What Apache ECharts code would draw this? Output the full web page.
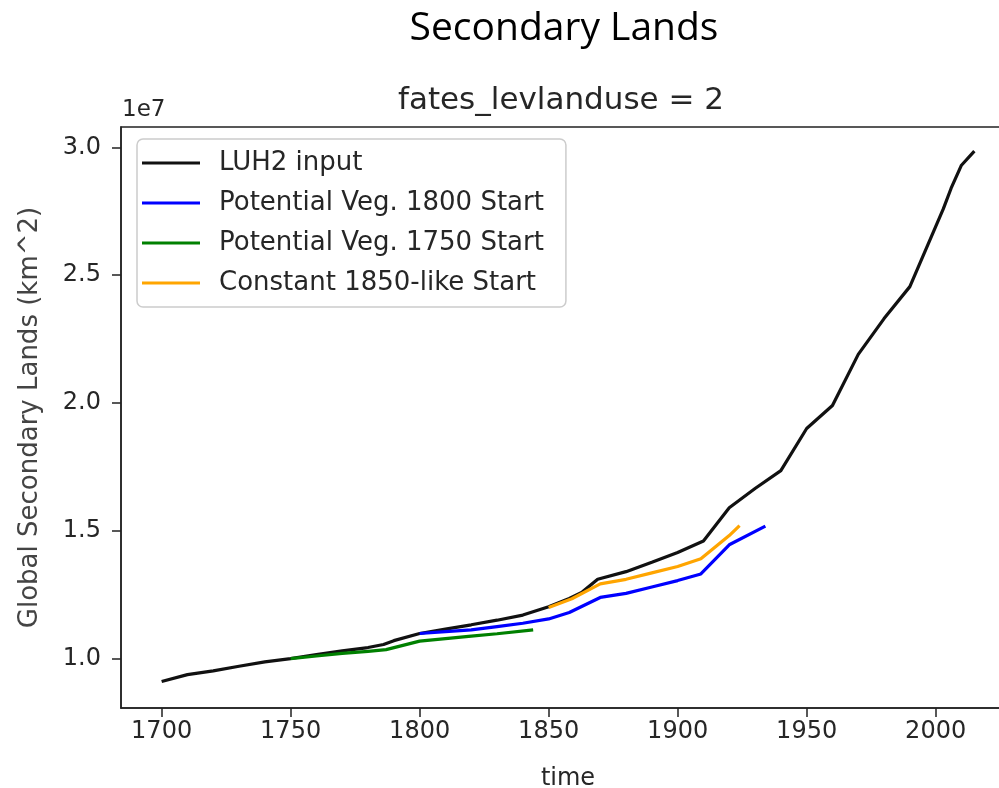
<!DOCTYPE html>
<html>
<head>
<meta charset="utf-8">
<script src="https://cdn.jsdelivr.net/npm/echarts@6/dist/echarts.min.js"></script>
<style>
  html, body { margin: 0; padding: 0; background: #fff; }
  #chart { width: 999px; height: 788px; }
</style>
</head>
<body>
<div id="chart"></div>
<script>
// Global secondary land area, in units of 1e7 km^2.
const luh2Years  = [1700, 1710, 1720, 1730, 1740, 1750, 1760, 1770, 1780, 1786, 1790, 1800, 1810, 1820, 1830, 1840, 1850, 1858, 1863, 1869, 1880, 1890, 1900, 1910, 1920, 1930, 1940, 1950, 1960, 1970, 1980, 1990, 2000, 2003, 2006, 2010, 2015];
const luh2Values = [0.910, 0.937, 0.952, 0.970, 0.987, 1.000, 1.015, 1.030, 1.043, 1.055, 1.070, 1.098, 1.115, 1.132, 1.150, 1.170, 1.203, 1.235, 1.260, 1.310, 1.340, 1.377, 1.415, 1.460, 1.590, 1.665, 1.735, 1.900, 1.990, 2.190, 2.330, 2.455, 2.690, 2.760, 2.840, 2.930, 2.985];

const veg1800Years  = [1800, 1810, 1820, 1830, 1840, 1850, 1858, 1870, 1880, 1890, 1900, 1909, 1920, 1934];
const veg1800Values = [1.098, 1.105, 1.112, 1.125, 1.138, 1.155, 1.180, 1.239, 1.255, 1.280, 1.305, 1.331, 1.445, 1.518];

const veg1750Years  = [1750, 1760, 1770, 1780, 1787, 1800, 1810, 1820, 1830, 1844];
const veg1750Values = [1.000, 1.010, 1.020, 1.028, 1.035, 1.068, 1.078, 1.088, 1.097, 1.112];

const const1850Years  = [1850, 1859, 1870, 1880, 1890, 1900, 1909, 1920, 1924];
const const1850Values = [1.200, 1.234, 1.292, 1.310, 1.335, 1.360, 1.390, 1.481, 1.520];

const seriesNames = ['LUH2 input', 'Potential Veg. 1800 Start', 'Potential Veg. 1750 Start', 'Constant 1850-like Start'];
const xTicks = [1700, 1750, 1800, 1850, 1900, 1950, 2000];
const yTicks = [1.0, 1.5, 2.0, 2.5, 3.0];

const pair = (xs, ys) => xs.map((x, i) => [x, ys[i]]);

const FONT = 'DejaVu Sans';
const TEXT = '#262626';

const lineSeries = (name, xs, ys, color) => ({
  name: name,
  type: 'line',
  data: pair(xs, ys),
  showSymbol: false,
  symbol: 'none',
  smooth: false,
  clip: false,
  lineStyle: { color: color, width: 3.2 },
  itemStyle: { color: color },
  emphasis: { disabled: true },
  animation: false
});

const chart = echarts.init(document.getElementById('chart'), null, { renderer: 'canvas' });

chart.setOption({
  backgroundColor: '#ffffff',
  animation: false,
  grid: {
    left: 121, right: -16, top: 127, bottom: 80,
    outerBoundsMode: 'none',
    show: true, borderColor: '#222', borderWidth: 1.5, backgroundColor: 'transparent'
  },
  xAxis: {
    type: 'value',
    min: 1684.25, max: 2030.75,
    name: 'time',
    nameLocation: 'middle',
    nameGap: 59,
    nameTextStyle: { fontFamily: FONT, fontSize: 24, color: TEXT },
    axisLine: { show: true, onZero: false, lineStyle: { color: '#222', width: 1.5 } },
    axisTick: { show: true, length: 9, lineStyle: { color: '#222', width: 1.5 }, customValues: xTicks },
    axisLabel: {
      customValues: xTicks, margin: 12,
      fontFamily: FONT, fontSize: 24, color: TEXT,
      formatter: v => String(v)
    },
    splitLine: { show: false }
  },
  yAxis: {
    type: 'value',
    min: 0.8065, max: 3.0795,
    name: 'Global Secondary Lands (km^2)',
    nameLocation: 'middle',
    nameGap: 78,
    nameTextStyle: { fontFamily: FONT, fontSize: 26, color: '#444' },
    axisLine: { show: true, onZero: false, lineStyle: { color: '#222', width: 1.5 } },
    axisTick: { show: true, length: 9, lineStyle: { color: '#222', width: 1.5 }, customValues: yTicks },
    axisLabel: {
      customValues: yTicks, margin: 20,
      fontFamily: FONT, fontSize: 24, color: TEXT,
      formatter: v => v.toFixed(1)
    },
    splitLine: { show: false }
  },
  legend: {
    orient: 'vertical',
    left: 137, top: 139,
    data: seriesNames,
    icon: 'rect',
    itemWidth: 58, itemHeight: 3,
    itemGap: 10,
    padding: [9, 22, 9, 5],
    backgroundColor: 'rgba(255,255,255,0.8)',
    borderColor: '#cccccc', borderWidth: 1.5, borderRadius: 6,
    selectedMode: false,
    textStyle: { fontFamily: FONT, fontSize: 26, color: TEXT, lineHeight: 30, padding: [0, 0, 0, 14] }
  },
  graphic: [
    { type: 'text', x: 564, y: 29, style: { text: 'Secondary Lands', font: '39px "Open Sans"', fill: '#000', textAlign: 'center', textVerticalAlign: 'middle' } },
    { type: 'text', x: 561, y: 101, style: { text: 'fates_levlanduse = 2', font: '31px "DejaVu Sans"', fill: TEXT, textAlign: 'center', textVerticalAlign: 'middle' } },
    { type: 'text', x: 122, y: 110, style: { text: '1e7', font: '23px "DejaVu Sans"', fill: TEXT, textAlign: 'left', textVerticalAlign: 'middle' } }
  ],
  series: [
    lineSeries(seriesNames[0], luh2Years, luh2Values, '#111111'),
    lineSeries(seriesNames[1], veg1800Years, veg1800Values, '#0000ff'),
    lineSeries(seriesNames[2], veg1750Years, veg1750Values, '#008000'),
    lineSeries(seriesNames[3], const1850Years, const1850Values, '#ffa500')
  ]
});
</script>
</body>
</html>
